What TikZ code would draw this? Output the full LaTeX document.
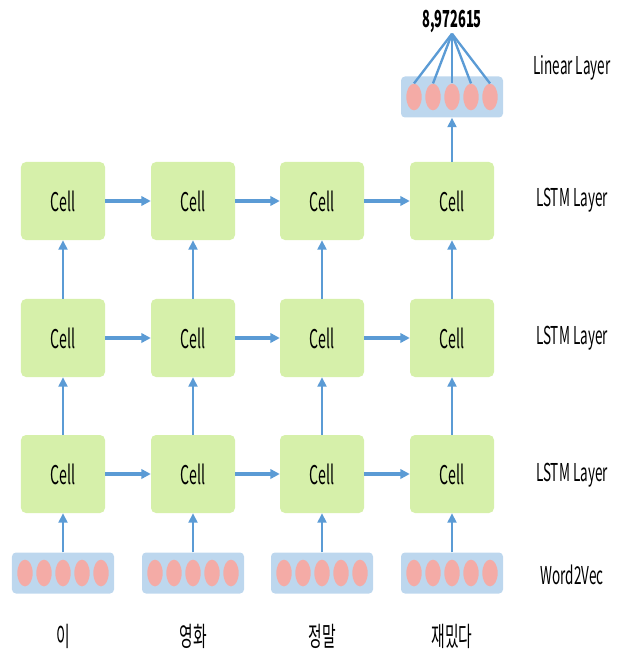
\documentclass[tikz,border=0pt]{standalone}
\usepackage{fontspec}
\setmainfont{Noto Sans CJK KR}
\usepackage{graphicx}
\usepackage{tikz}
\usetikzlibrary{arrows.meta,positioning,shapes.geometric}
\definecolor{cellgreen}{RGB}{214,240,170}
\definecolor{vecblue}{RGB}{189,215,238}
\definecolor{dotpink}{RGB}{244,171,166}
\definecolor{flowblue}{RGB}{91,155,213}
\newcommand{\narrowtext}[1]{\scalebox{0.55}[1]{#1}}

\tikzset{
  cellbox/.style={rectangle, rounded corners=0.15cm, fill=cellgreen, minimum width=2.52cm, minimum height=2.34cm, font=\fontsize{22}{24}\selectfont},
  vecbox/.style={rectangle, rounded corners=0.12cm, fill=vecblue, minimum width=3.06cm, minimum height=1.23cm},
  vecdot/.style={ellipse, fill=dotpink, inner sep=0pt, minimum width=0.46cm, minimum height=0.8cm},
  hflow/.style={-{Triangle[length=8pt,width=8pt]}, line width=3pt, flowblue},
  vflow/.style={-{Triangle[length=8pt,width=7.5pt]}, line width=2.1pt, flowblue},
  fan/.style={line width=2pt, flowblue},
  layerlabel/.style={font=\fontsize{21}{23}\selectfont},
  wordlabel/.style={font=\fontsize{23}{25}\selectfont}
}

\begin{document}
\begin{tikzpicture}[x=0.03cm, y=-0.03cm]
\useasboundingbox (0,0) rectangle (622,655);

% LSTM cells, three layers
\foreach \i/\x in {1/63,2/193,3/322,4/452} {
  \foreach \j/\y in {1/474,2/338,3/201} {
    \node[cellbox] (c\i\j) at (\x,\y) {\narrowtext{Cell}};
  }
}

% Word2Vec inputs
\foreach \i/\x in {1/63,2/193,3/322,4/452} {
  \node[vecbox] (w\i) at (\x,573) {};
  \foreach \k/\dx in {1/-38,2/-19,3/0,4/19,5/38}
    \node[vecdot] (w\i-\k) at (\x+\dx,573) {};
}

% Linear layer on top
\node[vecbox] (lin) at (452,97) {};
\foreach \k/\dx in {1/-38,2/-19,3/0,4/19,5/38}
  \node[vecdot] (lin-\k) at (452+\dx,97) {};
\node[font=\fontsize{20}{22}\selectfont\bfseries, inner sep=1pt] (val) at (452,21) {\narrowtext{8,972615}};
\foreach \k in {1,...,5}
  \draw[fan] (val.south) -- (lin-\k.north);

% Upward flow
\foreach \i in {1,...,4} {
  \draw[vflow] (w\i) -- (c\i1);
  \draw[vflow] (c\i1) -- (c\i2);
  \draw[vflow] (c\i2) -- (c\i3);
}
\draw[vflow] (c43) -- (lin);

% Sideways flow
\foreach \j in {1,2,3} {
  \draw[hflow] (c1\j) -- (c2\j);
  \draw[hflow] (c2\j) -- (c3\j);
  \draw[hflow] (c3\j) -- (c4\j);
}

% Layer names
\node[layerlabel] (lbl-lin) at (572,68) {\narrowtext{Linear Layer}};
\node[layerlabel] (lbl-3) at (572,200) {\narrowtext{LSTM Layer}};
\node[layerlabel] (lbl-2) at (572,338) {\narrowtext{LSTM Layer}};
\node[layerlabel] (lbl-1) at (572,475) {\narrowtext{LSTM Layer}};
\node[layerlabel] (lbl-vec) at (572,575) {\narrowtext{Word2Vec}};

% Input words
\node[wordlabel] (word1) at (63,636) {\narrowtext{이}};
\node[wordlabel] (word2) at (193,636) {\narrowtext{영화}};
\node[wordlabel] (word3) at (322,636) {\narrowtext{정말}};
\node[wordlabel] (word4) at (452,636) {\narrowtext{재밌다}};

\end{tikzpicture}
\end{document}
